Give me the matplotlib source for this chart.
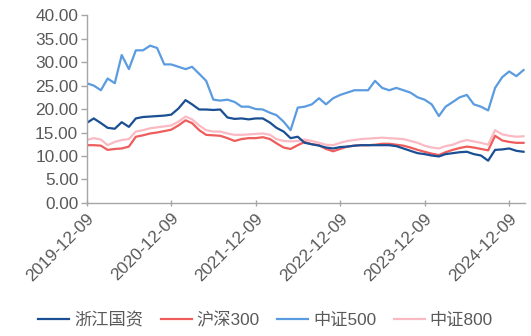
import matplotlib
matplotlib.use("Agg")
import matplotlib.pyplot as plt
import matplotlib.dates as mdates
import numpy as np
import pandas as pd

plt.rcParams['font.family'] = ['Liberation Sans', 'Noto Sans CJK SC', 'DejaVu Sans']

# monthly readings, 2019-12-09 .. 2025-02-09
dates = pd.date_range('2019-12-09', periods=63, freq=pd.DateOffset(months=1))

zj_guozi = [17.0, 18.0, 17.0, 16.0, 15.8, 17.2, 16.2, 18.0, 18.3, 18.4, 18.5, 18.6,
            18.8, 20.1, 21.9, 21.0, 19.9, 19.9, 19.8, 19.9, 18.2, 17.9, 18.0, 17.8,
            18.0, 18.0, 17.1, 16.0, 15.2, 13.8, 14.1, 12.8, 12.5, 12.2, 11.8, 11.6,
            11.9, 12.0, 12.2, 12.3, 12.3, 12.3, 12.3, 12.3, 12.1, 11.6, 11.1, 10.6,
            10.4, 10.1, 9.9, 10.4, 10.6, 10.8, 10.9, 10.4, 10.1, 9.0, 11.3, 11.4,
            11.6, 11.1, 10.9]
hs300 = [12.3, 12.3, 12.2, 11.3, 11.5, 11.6, 12.0, 14.1, 14.4, 14.8, 15.0, 15.3,
         15.6, 16.5, 17.6, 17.0, 15.5, 14.5, 14.4, 14.3, 13.8, 13.2, 13.6, 13.8,
         13.8, 14.0, 13.6, 12.7, 11.8, 11.5, 12.3, 13.0, 12.5, 12.3, 11.5, 11.0,
         11.5, 12.0, 12.2, 12.3, 12.3, 12.4, 12.6, 12.6, 12.4, 12.2, 11.8, 11.3,
         10.9, 10.5, 10.2, 10.8, 11.3, 11.7, 12.0, 11.8, 11.5, 11.2, 14.3, 13.3,
         13.0, 12.8, 12.8]
zz500 = [25.5, 25.0, 24.0, 26.5, 25.5, 31.5, 28.5, 32.5, 32.5, 33.5, 33.0, 29.5,
         29.5, 29.0, 28.5, 29.0, 27.5, 26.0, 22.0, 21.8, 22.0, 21.5, 20.5, 20.5,
         20.0, 19.9, 19.2, 18.7, 17.3, 15.5, 20.3, 20.5, 21.0, 22.3, 21.0, 22.3,
         23.0, 23.5, 24.0, 24.0, 24.0, 26.0, 24.5, 24.0, 24.5, 24.0, 23.5, 22.5,
         22.0, 21.0, 18.5, 20.5, 21.5, 22.5, 23.0, 21.0, 20.5, 19.7, 24.5, 26.8,
         28.0, 27.0, 28.3]
zz800 = [13.4, 13.8, 13.5, 12.3, 13.0, 13.4, 13.6, 15.2, 15.5, 15.9, 16.1, 16.3,
         16.5, 17.3, 18.4, 17.8, 16.5, 15.5, 15.2, 15.2, 14.8, 14.5, 14.5, 14.6,
         14.7, 14.8, 14.5, 13.6, 13.2, 13.1, 13.2, 13.5, 13.2, 12.8, 12.4, 12.3,
         12.8, 13.2, 13.4, 13.6, 13.7, 13.8, 13.9, 13.8, 13.7, 13.6, 13.2, 12.8,
         12.2, 11.8, 11.6, 12.1, 12.4, 13.0, 13.4, 13.1, 12.8, 12.4, 15.5, 14.6,
         14.3, 14.1, 14.2]

names = ['浙江国资', '沪深300', '中证500', '中证800']
colors = ['#1B4F93', '#EE5C5C', '#5B9BE0', '#FBB9C3']
tick_dates = pd.to_datetime(['2019-12-09', '2020-12-09', '2021-12-09',
                             '2022-12-09', '2023-12-09', '2024-12-09'])

fig = plt.figure(figsize=(5.31, 3.36), dpi=100)
ax = fig.add_axes([0.163, 0.396, 0.826, 0.559])

# draw back to front so the navy line sits on top
for vals, c in zip([zz800, hs300, zz500, zj_guozi], [colors[3], colors[1], colors[2], colors[0]]):
    ax.plot(dates, vals, color=c, lw=1.6)

handles = [plt.Line2D([], [], color=c, lw=1.6) for c in colors]

ax.set_ylim(0, 40)
ax.set_yticks(np.arange(0, 41, 5))
ax.yaxis.set_major_formatter(matplotlib.ticker.FormatStrFormatter('%.2f'))
ax.set_xlim(pd.Timestamp('2019-12-09'), pd.Timestamp('2025-02-16'))
ax.set_xticks(tick_dates)
ax.xaxis.set_major_formatter(mdates.DateFormatter('%Y-%m-%d'))

for s in ['top', 'right']:
    ax.spines[s].set_visible(False)
for s in ['left', 'bottom']:
    ax.spines[s].set_color('#A6A6A6')
    ax.spines[s].set_linewidth(1.0)

ax.tick_params(axis='y', colors='#A6A6A6', labelcolor='#595959', labelsize=12.4,
               length=4, width=1, pad=2)
ax.tick_params(axis='x', colors='#A6A6A6', labelcolor='#595959', labelsize=12.4,
               direction='inout', length=5, width=1, pad=3)
for lab in ax.get_xticklabels():
    lab.set_rotation(45)
    lab.set_ha('right')
    lab.set_rotation_mode('anchor')

leg = fig.legend(handles, names, loc='center', bbox_to_anchor=(0.5, 0.048), ncol=4,
                 frameon=False, fontsize=12.4, handlelength=1.8, handletextpad=0.3,
                 columnspacing=1.0)
for t in leg.get_texts():
    t.set_color('#595959')

fig.savefig('out.png', dpi=100)
